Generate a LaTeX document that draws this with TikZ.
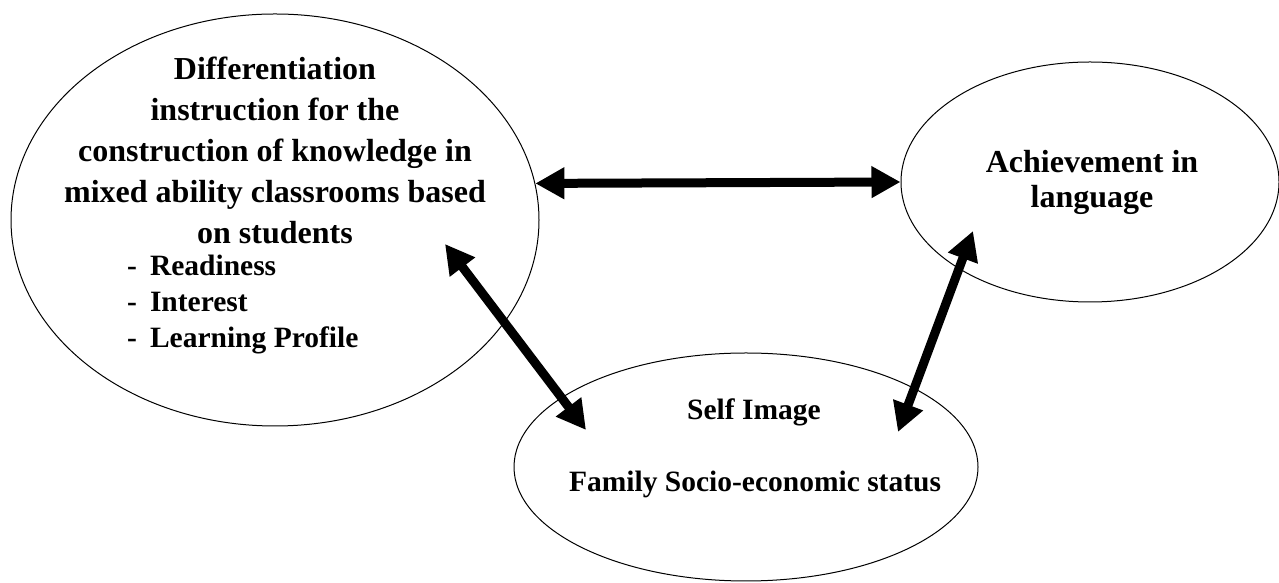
\documentclass[tikz,border=0pt]{standalone}
\usepackage{fontspec}
\setmainfont{Liberation Serif}
\usetikzlibrary{arrows.meta,shapes.geometric}
\begin{document}
\begin{tikzpicture}[x=1pt,y=1pt,
    main node/.style={ellipse,draw,line width=1pt,inner sep=0pt},
    txt/.style={font=\fontsize{32}{41}\selectfont\bfseries,inner sep=0pt,align=center},
    small txt/.style={txt,font=\fontsize{29.5}{36}\selectfont\bfseries},
    link/.style={line width=9pt,{Triangle[length=29pt,width=30pt]}-{Triangle[length=29pt,width=30pt]}}]

  \useasboundingbox (0,0) rectangle (1279,583);

  \node[main node,minimum width=528pt,minimum height=412pt] (1) at (275,363) {};
  \node[main node,minimum width=378pt,minimum height=240pt] (2) at (1090,401) {};
  \node[main node,minimum width=464pt,minimum height=228pt] (3) at (746,116) {};

  \node[txt] (diff) at (275,433) {Differentiation\\ instruction for the\\ construction of knowledge in\\ mixed ability classrooms based\\ on students};
  \node[small txt,align=left,anchor=west] (list) at (127,278)
    {-\hspace{13pt}Readiness\\ -\hspace{13pt}Interest\\ -\hspace{13pt}Learning Profile};
  \node[txt,font=\fontsize{32}{35}\selectfont\bfseries] (ach) at (1092,401) {Achievement in\\ language};
  \node[small txt] (self) at (754,171) {Self Image};
  \node[small txt] (fam) at (755,99) {Family Socio-economic status};

  % free ends inside the ellipses
  \coordinate (a1) at (445,339);
  \coordinate (a2) at (586,153);
  \coordinate (b1) at (973,352);
  \coordinate (b2) at (898,151);

  \path[link]
    (1.8) edge (2.west)
    (a1) edge (a2)
    (b1) edge (b2);

\end{tikzpicture}
\end{document}
